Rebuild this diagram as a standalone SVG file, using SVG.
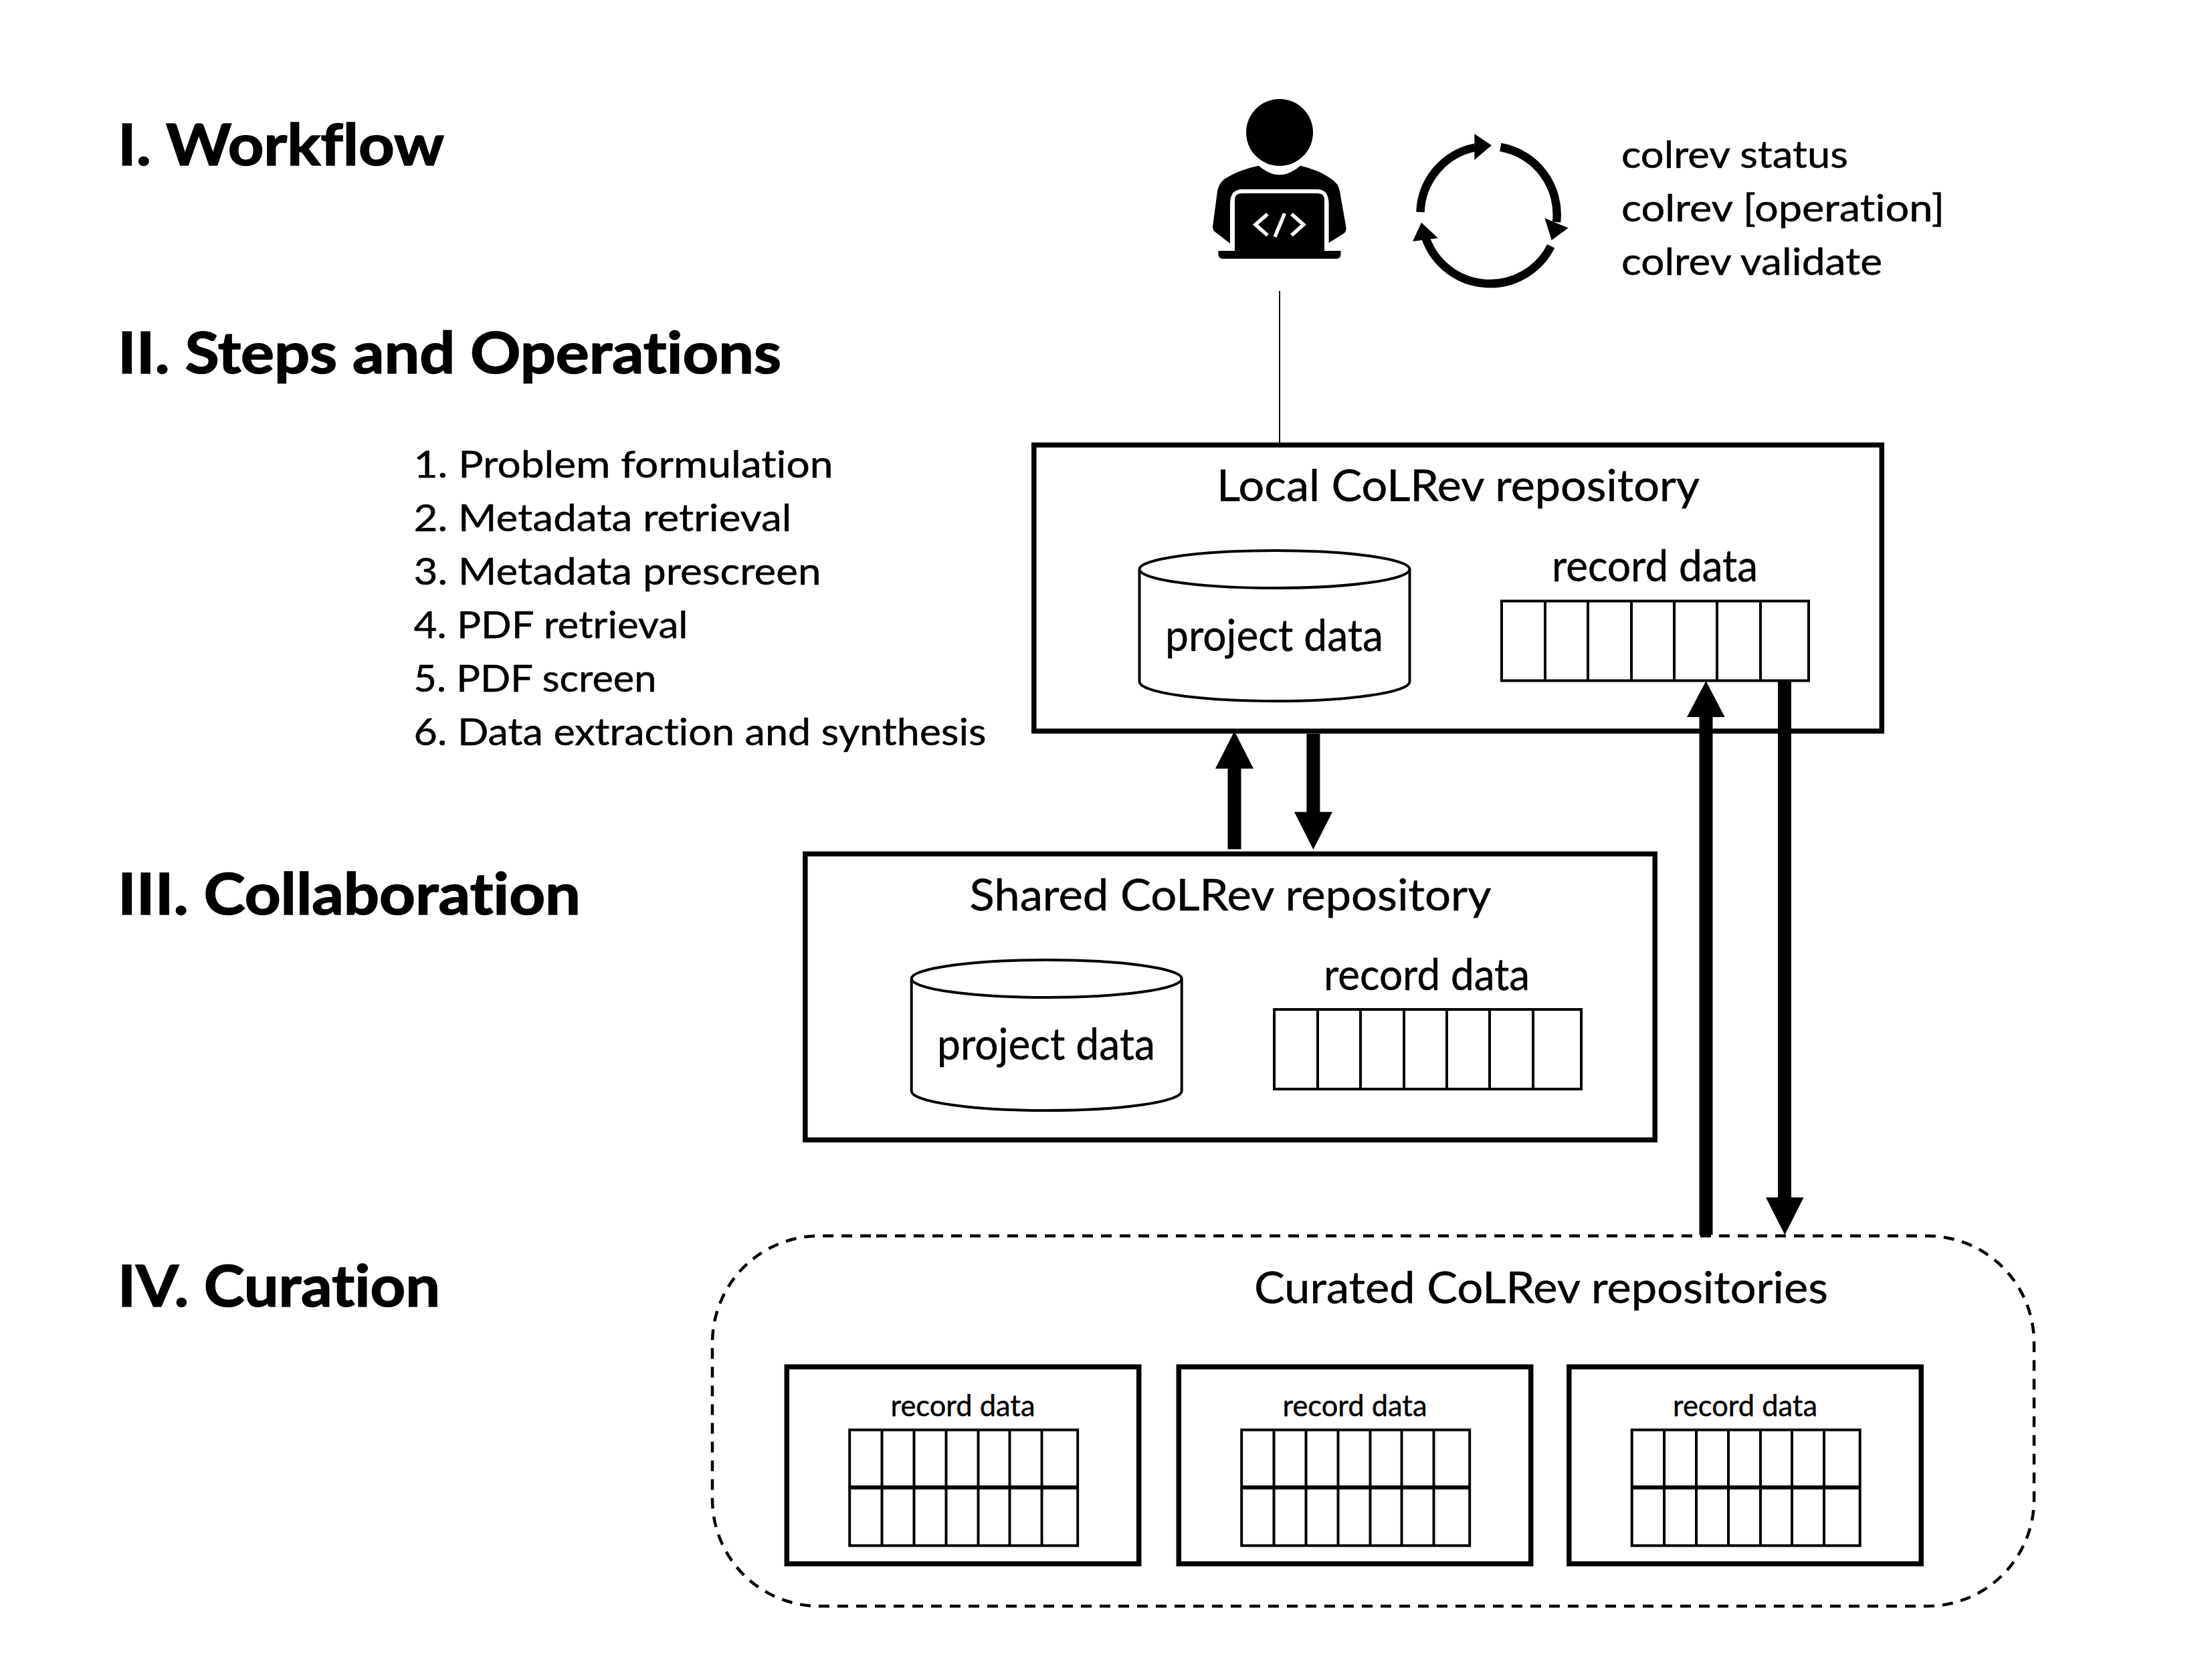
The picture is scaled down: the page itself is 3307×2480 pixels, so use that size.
<svg xmlns="http://www.w3.org/2000/svg" width="3307" height="2480" viewBox="0 0 3307 2480">
<defs>
<style>
text{font-family:"Lato","Liberation Sans",sans-serif;fill:#000;font-variant-ligatures:none;stroke:#000;stroke-width:.5}
.h{font-size:87px;font-weight:700;stroke-width:1.6}
.l{font-size:57px}
.t{font-size:66px}
.s{font-size:45px}
.m{text-anchor:middle}
.box{fill:#fff;stroke:#000;stroke-width:7.5}
.thin{fill:#fff;stroke:#000;stroke-width:4}
.line{fill:none;stroke:#000;stroke-width:4}
.shaft{fill:none;stroke:#000;stroke-width:20}
.cyc{fill:none;stroke:#000;stroke-width:12.5}
.code{fill:none;stroke:#fff;stroke-width:5.5}
</style>
<g id="cyl">
<path class="thin" d="M-202 0V168C-202 184 -112 197 0 197S202 184 202 168V0"/>
<ellipse class="thin" cx="0" cy="0" rx="202" ry="28"/>
</g>
<g id="rec1">
<rect class="thin" x="0" y="0" width="459" height="119"/>
<path class="line" d="M65 0V119M129 0V119M194 0V119M258 0V119M322 0V119M387 0V119"/>
</g>
<g id="cur">
<rect class="box" x="3.8" y="3.8" width="526.4" height="294.4"/>
<rect class="thin" x="97.7" y="98" width="341" height="173"/>
<path class="line" d="M146 98V271M194 98V271M242 98V271M290 98V271M337 98V271M385 98V271"/>
<path d="M97.7 184H438.7" fill="none" stroke="#000" stroke-width="6"/>
<text class="s m" x="267" y="77" textLength="216" lengthAdjust="spacingAndGlyphs">record data</text>
</g>
</defs>
<rect width="3307" height="2480" fill="#fff"/>

<g id="titles">
<text class="h" x="176" y="247" textLength="488" lengthAdjust="spacingAndGlyphs">I. Workflow</text>
<text class="h" x="176" y="558" textLength="992" lengthAdjust="spacingAndGlyphs">II. Steps and Operations</text>
<text class="h" x="176" y="1366.5" textLength="692" lengthAdjust="spacingAndGlyphs">III. Collaboration</text>
<text class="h" x="176" y="1952.5" textLength="482" lengthAdjust="spacingAndGlyphs">IV. Curation</text>
</g>

<g id="steps">
<text class="l" x="618.5" y="714" textLength="627" lengthAdjust="spacingAndGlyphs">1. Problem formulation</text>
<text class="l" x="618.5" y="794" textLength="565" lengthAdjust="spacingAndGlyphs">2. Metadata retrieval</text>
<text class="l" x="618.5" y="874" textLength="609" lengthAdjust="spacingAndGlyphs">3. Metadata prescreen</text>
<text class="l" x="618.5" y="954" textLength="410" lengthAdjust="spacingAndGlyphs">4. PDF retrieval</text>
<text class="l" x="618.5" y="1034" textLength="363" lengthAdjust="spacingAndGlyphs">5. PDF screen</text>
<text class="l" x="618.5" y="1114" textLength="856" lengthAdjust="spacingAndGlyphs">6. Data extraction and synthesis</text>
</g>

<g id="connectors">
<path d="M1913 435V662" fill="none" stroke="#000" stroke-width="2"/>
</g>

<g id="user">
<circle cx="1913" cy="198" r="50" fill="#000"/>
<path d="M1881.7 247.7Q1913 275 1944 247.7Q1972 254 1991 268Q2001 274 2003 286L2012.5 340Q2013 346 2009 349L1986.6 363V305Q1986.6 283 1969 283H1857Q1839 283 1839 305V364L1817 347Q1813 344 1813 339L1820 286Q1822 275 1830 268Q1854 253 1881.7 247.7Z" fill="#000"/>
<path d="M1846 375V299Q1846 289 1856 289H1970Q1980 289 1980 299V375H2004.5V380Q2004.5 386.7 1998 386.7H1828Q1821.4 386.7 1821.4 380V375Z" fill="#000"/>
<path class="code" d="M1895 320L1877 335.7L1895 351.7M1931 320L1948.7 335.7L1931 351.7M1920.5 319L1906 354"/>
</g>

<g id="cycle">
<path class="cyc" d="M2123.5 317A102 102 0 0 1 2205 220.5"/>
<path d="M2204.3 200L2230 217.3L2204.3 239Z"/>
<path class="cyc" d="M2243.3 220A102 102 0 0 1 2327 332"/>
<path d="M2309.3 326L2344.7 340.7L2319.7 359Z"/>
<path class="cyc" d="M2318.7 368A102 102 0 0 1 2131.7 356.7"/>
<path d="M2125 332.7L2150 356L2112 360.7Z"/>
</g>

<g id="commands">
<text class="l" x="2424" y="250.7" textLength="339" lengthAdjust="spacingAndGlyphs">colrev status</text>
<text class="l" x="2424" y="330.7" textLength="483" lengthAdjust="spacingAndGlyphs">colrev [operation]</text>
<text class="l" x="2424" y="410.7" textLength="390" lengthAdjust="spacingAndGlyphs">colrev validate</text>
</g>

<g id="local">
<rect class="box" x="1545.8" y="665.2" width="1267.5" height="427.7"/>
<text class="t m" x="2180" y="749.4" textLength="722" lengthAdjust="spacingAndGlyphs">Local CoLRev repository</text>
<use href="#cyl" x="1905.5" y="851"/>
<text class="t m" x="1905" y="972.5" textLength="326" lengthAdjust="spacingAndGlyphs">project data</text>
<text class="t m" x="2474" y="869" textLength="308" lengthAdjust="spacingAndGlyphs">record data</text>
<use href="#rec1" x="2245" y="898.5"/>
</g>

<g id="shared">
<rect class="box" x="1203.8" y="1276.5" width="1270.4" height="427.5"/>
<text class="t m" x="1839.5" y="1361" textLength="780" lengthAdjust="spacingAndGlyphs">Shared CoLRev repository</text>
<use href="#cyl" x="1564.7" y="1463"/>
<text class="t m" x="1564" y="1584" textLength="326" lengthAdjust="spacingAndGlyphs">project data</text>
<text class="t m" x="2133" y="1479.5" textLength="308" lengthAdjust="spacingAndGlyphs">record data</text>
<use href="#rec1" x="1905" y="1509"/>
</g>

<g id="curated">
<path d="M1310 1847.5H2881A160 160 0 0 1 3041 2007.5V2241A160 160 0 0 1 2881 2401H1225A160 160 0 0 1 1065 2241V2007.5A160 160 0 0 1 1225 1847.5H1310Z" fill="#fff" stroke="#000" stroke-width="4.5" stroke-dasharray="16 12"/>
<text class="t m" x="2304" y="1948" textLength="858" lengthAdjust="spacingAndGlyphs">Curated CoLRev repositories</text>
<use id="curated-1" href="#cur" x="1172.5" y="2039.5"/>
<use id="curated-2" href="#cur" x="1758.5" y="2039.5"/>
<use id="curated-3" href="#cur" x="2342" y="2039.5"/>
</g>

<g id="arrows">
<path class="shaft" d="M1845.5 1269.5V1145"/>
<path d="M1845.5 1093L1874 1149H1817Z"/>
<path class="shaft" d="M1963.4 1097V1218"/>
<path d="M1963.4 1270L1935 1213.7H1992Z"/>
<path class="shaft" d="M2550.5 1846V1068"/>
<path d="M2550.5 1018L2578.6 1072H2522Z"/>
<path class="shaft" d="M2668 1018V1792"/>
<path d="M2668.4 1846L2640 1790H2696.5Z"/>
</g>
</svg>
